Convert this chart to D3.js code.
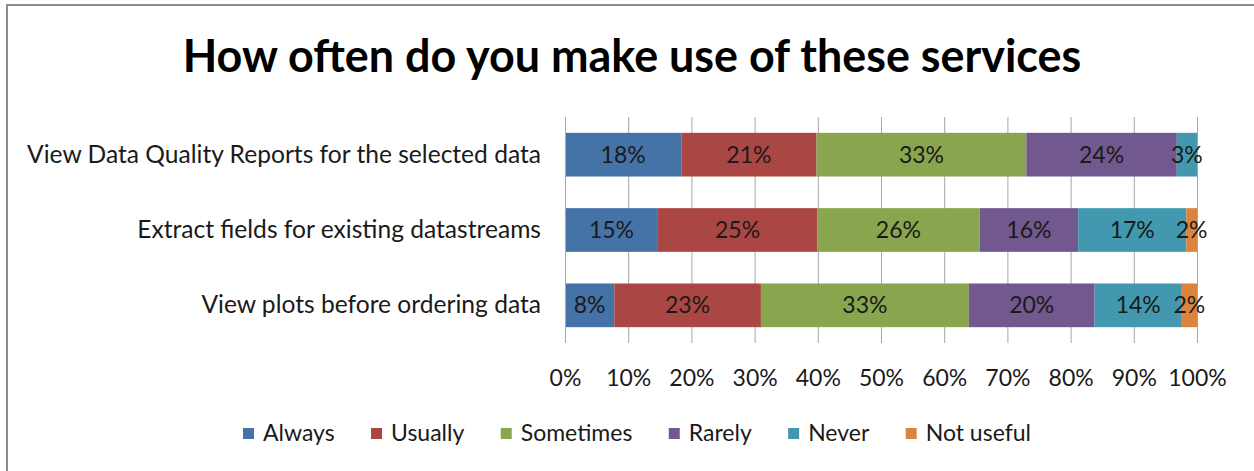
<!DOCTYPE html>
<html><head><meta charset="utf-8">
<script src="https://cdn.jsdelivr.net/npm/d3@7"></script>
<style>body{margin:0;background:#fff;} svg{display:block;}</style>
</head><body>
<script>
const title = "How often do you make use of these services";
const categories = ["View Data Quality Reports for the selected data","Extract fields for existing datastreams","View plots before ordering data"];
const seriesNames = ["Always","Usually","Sometimes","Rarely","Never","Not useful"];
const always    = [18.4, 14.7, 7.8];
const usually   = [21.4, 25.2, 23.2];
const sometimes = [33.2, 25.7, 32.9];
const rarely    = [23.8, 15.6, 19.9];
const never     = [3.2, 17.1, 13.8];
const notUseful = [0, 1.7, 2.4];
const tickValues = [0,10,20,30,40,50,60,70,80,90,100];
const colors = ["#4572A7","#AA4643","#89A54E","#71588F","#4198AF","#DB843D"];

const W = 1254, H = 471;
const FONT = "Lato, 'Open Sans', sans-serif";
const svg = d3.select("body").append("svg").attr("width", W).attr("height", H)
  .style("font-family", FONT);

svg.append("rect").attr("x", 7).attr("y", 5).attr("width", W + 10).attr("height", H + 10)
  .attr("fill", "#fff").attr("stroke", "#8c8c8c").attr("stroke-width", 2);

function fit(sel, target) {
  const w = sel.node().getComputedTextLength();
  const fs = parseFloat(sel.attr("font-size"));
  sel.attr("font-size", fs * target / w);
}

const t = svg.append("text").text(title).attr("x", 632).attr("y", 72)
  .attr("text-anchor", "middle").attr("font-weight", "bold").attr("font-size", 40).attr("fill", "#000");
fit(t, 899);

const seriesVals = [always, usually, sometimes, rarely, never, notUseful];
const data = categories.map((c, i) => {
  const o = {cat: c};
  seriesNames.forEach((s, j) => o[s] = seriesVals[j][i]);
  return o;
});
const stacked = d3.stack().keys(seriesNames)(data);

const x = d3.scaleLinear().domain([0, 100]).range([565, 1197]);
const y = d3.scaleBand().domain(categories).range([117, 343]).paddingInner(0.42).paddingOuter(0.21);

// gridlines
svg.append("g").selectAll("line").data(tickValues.slice(1)).join("line")
  .attr("x1", d => x(d) + 0.5).attr("x2", d => x(d) + 0.5).attr("y1", 117).attr("y2", 343)
  .attr("stroke", "#a6a6a6").attr("stroke-width", 1);

// bars
const g = svg.append("g");
stacked.forEach((layer, j) => {
  g.append("g").attr("fill", colors[j]).selectAll("rect").data(layer).join("rect")
    .attr("x", d => x(d[0])).attr("width", d => x(d[1]) - x(d[0]))
    .attr("y", d => y(d.data.cat)).attr("height", y.bandwidth());
});
stacked.forEach((layer, j) => {
  g.append("g").selectAll("text").data(layer.filter(d => d[1] - d[0] > 0)).join("text")
    .attr("x", d => (x(d[0]) + x(d[1])) / 2).attr("y", d => y(d.data.cat) + y.bandwidth() / 2 + 8)
    .attr("text-anchor", "middle").attr("font-size", 23).attr("fill", "#1a1a1a")
    .text(d => Math.round(d[1] - d[0]) + "%");
});

// category axis line
svg.append("line").attr("x1", 565.5).attr("x2", 565.5).attr("y1", 117).attr("y2", 343)
  .attr("stroke", "#a6a6a6").attr("stroke-width", 1);

// category labels
const catLabels = svg.append("g").selectAll("text").data(categories).join("text")
  .attr("x", 541).attr("y", d => y(d) + y.bandwidth() / 2 + 8)
  .attr("text-anchor", "end").attr("font-size", 20).attr("fill", "#1a1a1a").text(d => d);
{
  const w0 = catLabels.nodes()[0].getComputedTextLength();
  catLabels.attr("font-size", 20 * 514 / w0);
}

// value axis tick labels
const xAxis = svg.append("g").attr("transform", "translate(0,343)")
  .call(d3.axisBottom(x).tickValues(tickValues).tickFormat(d => d + "%").tickSize(0).tickPadding(27));
xAxis.select(".domain").remove();
xAxis.selectAll("text").attr("font-size", 23).attr("font-family", FONT).attr("fill", "#1a1a1a");

// legend
const legend = svg.append("g");
const items = legend.selectAll("g").data(seriesNames).join("g");
items.append("rect").attr("y", -1).attr("width", 11).attr("height", 11).attr("fill", (d, i) => colors[i]);
items.append("text").attr("x", 20).attr("y", 12).attr("font-size", 23).attr("fill", "#1a1a1a").text(d => d);
let widths = items.nodes().map(n => d3.select(n).select("text").node().getComputedTextLength() + 20);
const gap = (788 - d3.sum(widths)) / (widths.length - 1);
let cx = 243;
items.each(function(d, i) {
  d3.select(this).attr("transform", `translate(${cx},429)`);
  cx += widths[i] + gap;
});
</script>
</body></html>
